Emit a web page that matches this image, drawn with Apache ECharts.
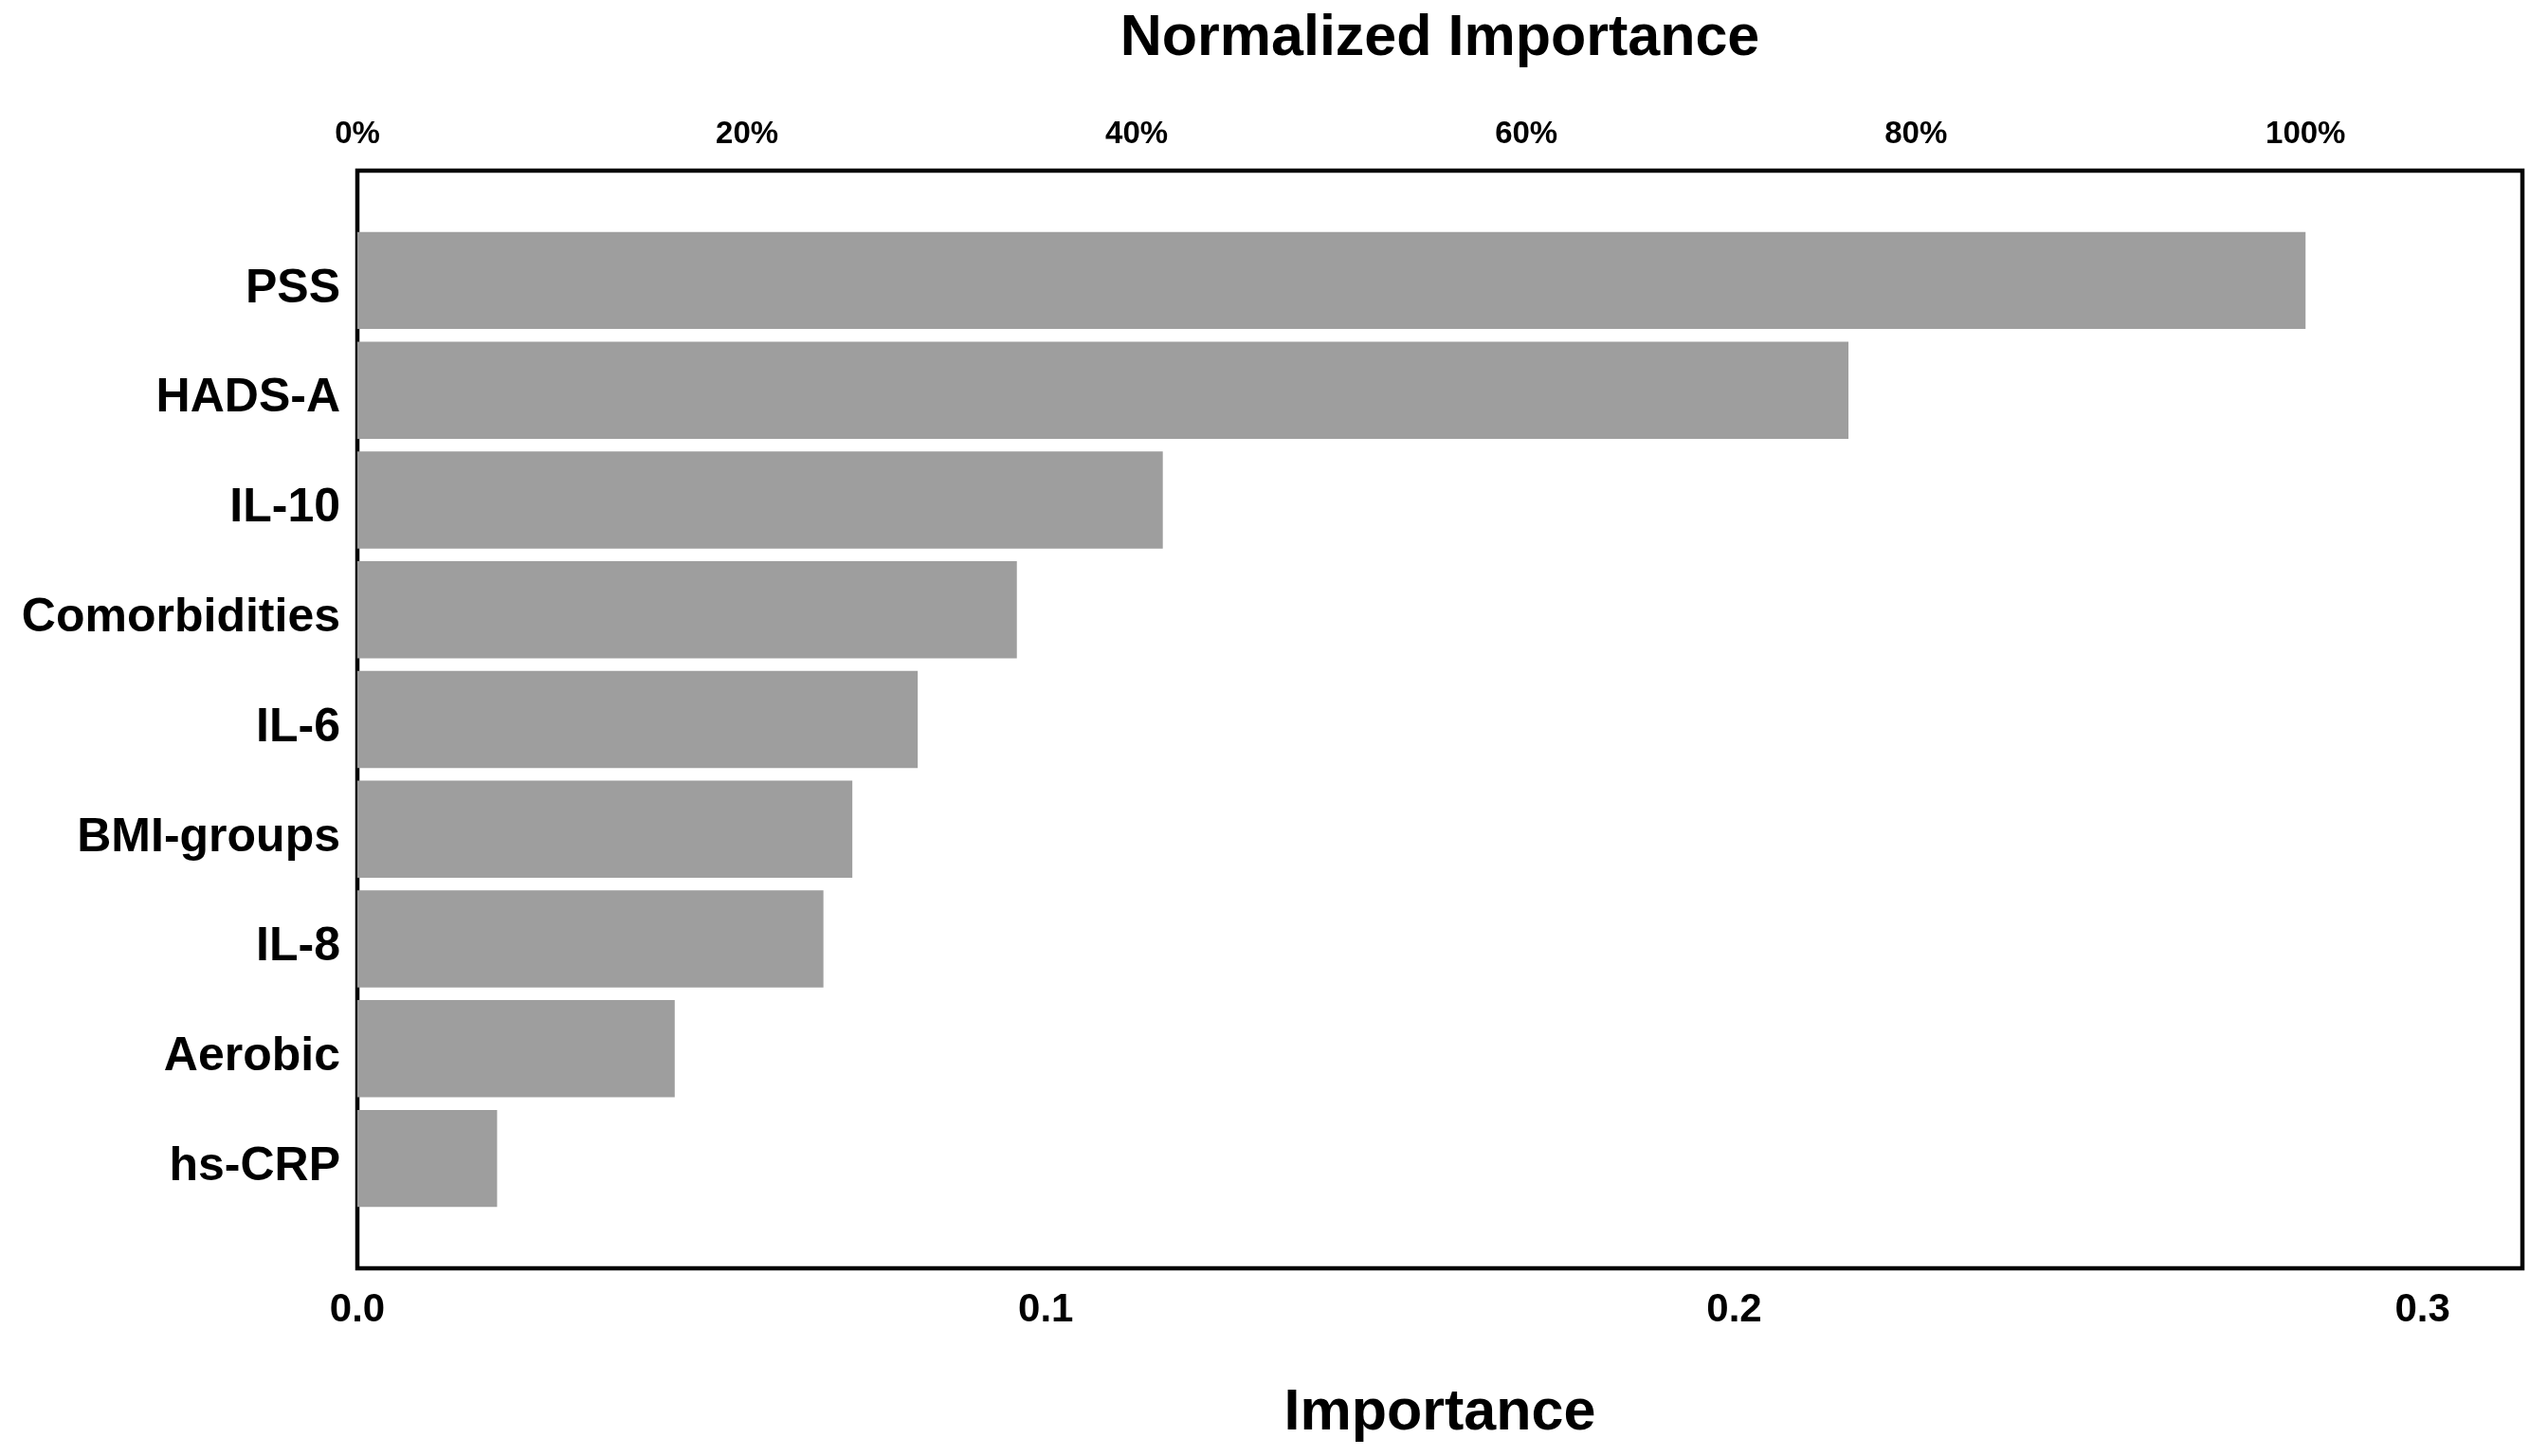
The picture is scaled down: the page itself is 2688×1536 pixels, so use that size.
<!DOCTYPE html>
<html>
<head>
<meta charset="utf-8">
<script src="https://cdn.jsdelivr.net/npm/echarts@6/dist/echarts.min.js"></script>
<style>
html,body{margin:0;padding:0;background:#fff;}
#chart{width:2688px;height:1536px;}
</style>
</head>
<body>
<div id="chart"></div>
<script>
// Data
const categories = ['PSS','HADS-A','IL-10','Comorbidities','IL-6','BMI-groups','IL-8','Aerobic','hs-CRP'];
const importance = [0.2830, 0.2166, 0.1170, 0.0958, 0.0814, 0.0719, 0.0677, 0.0461, 0.0203];
const importanceTicks = { min: 0, max: 0.3145, interval: 0.1 };
const normalizedTicks = { min: 0, max: 111.13, interval: 20 };

const FONT = '"Liberation Sans", Arial, sans-serif';
const chart = echarts.init(document.getElementById('chart'));

chart.setOption({
  backgroundColor: '#fff',
  animation: false,
  grid: [
    { left: 377, right: 27, top: 180, bottom: 198, show: true, borderColor: '#000', borderWidth: 4.5, backgroundColor: 'transparent' },
    { left: 377, right: 27, top: 238, bottom: 256 }
  ],
  xAxis: [
    {
      gridIndex: 0, type: 'value', position: 'bottom',
      min: importanceTicks.min, max: importanceTicks.max, interval: importanceTicks.interval,
      axisLine: { show: false }, axisTick: { show: false }, splitLine: { show: false },
      axisLabel: {
        margin: 23, fontFamily: FONT, fontWeight: 'bold', fontSize: 42, color: '#000',
        formatter: v => v.toFixed(1), showMaxLabel: false
      },
      name: 'Importance', nameLocation: 'middle', nameGap: 123,
      nameTextStyle: { fontFamily: FONT, fontWeight: 'bold', fontSize: 61, color: '#000' }
    },
    {
      gridIndex: 0, type: 'value', position: 'top',
      min: normalizedTicks.min, max: normalizedTicks.max, interval: normalizedTicks.interval,
      axisLine: { show: false }, axisTick: { show: false }, splitLine: { show: false },
      axisLabel: {
        margin: 22, fontFamily: FONT, fontWeight: 'bold', fontSize: 33, color: '#000',
        formatter: '{value}%', showMaxLabel: false
      },
      name: 'Normalized Importance', nameLocation: 'middle', nameGap: 108,
      nameTextStyle: { fontFamily: FONT, fontWeight: 'bold', fontSize: 61, color: '#000' }
    },
    {
      gridIndex: 1, type: 'value',
      min: importanceTicks.min, max: importanceTicks.max,
      show: false
    }
  ],
  yAxis: [
    { gridIndex: 0, type: 'value', show: false },
    {
      gridIndex: 1, type: 'category', inverse: true, data: categories,
      axisLine: { show: false }, axisTick: { show: false }, splitLine: { show: false },
      axisLabel: {
        margin: 18, color: '#000',
        formatter: v => '{c|' + v + '}',
        rich: { c: { padding: [18, 0, 0, 0], fontFamily: FONT, fontWeight: 'bold', fontSize: 50, color: '#000' } }
      }
    }
  ],
  series: [
    {
      type: 'bar', xAxisIndex: 2, yAxisIndex: 1,
      data: importance,
      barCategoryGap: '11.5%',
      itemStyle: { color: '#9e9e9e' },
      silent: true
    }
  ]
});
</script>
</body>
</html>
